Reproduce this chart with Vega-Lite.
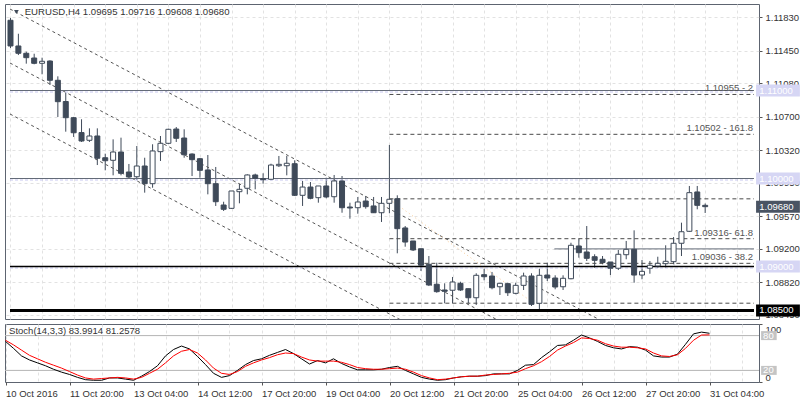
{
  "$schema": "https://vega.github.io/schema/vega-lite/v6.json",
  "background": "white",
  "padding": {"left": 3, "top": 3, "right": 0, "bottom": 0},
  "spacing": 3,
  "config": {
    "view": {"stroke": "#5d6470", "strokeWidth": 1},
    "font": "Liberation Sans",
    "axis": {"labelFont": "Liberation Sans", "labelFontSize": 9.5, "labelColor": "#333333", "tickColor": "#555555", "domain": false, "title": null, "grid": false, "labelOverlap": false}
  },
  "datasets": {
    "candles": [
      {"i":0,"o":1.11798,"h":1.11824,"l":1.11483,"c":1.11506},
      {"i":1,"o":1.11506,"h":1.11645,"l":1.11403,"c":1.11423},
      {"i":2,"o":1.11423,"h":1.11441,"l":1.11305,"c":1.11373},
      {"i":3,"o":1.11369,"h":1.11418,"l":1.11298,"c":1.11309},
      {"i":4,"o":1.11309,"h":1.11373,"l":1.11184,"c":1.11332},
      {"i":5,"o":1.11335,"h":1.11343,"l":1.11063,"c":1.11116},
      {"i":6,"o":1.11116,"h":1.11161,"l":1.10699,"c":1.10873},
      {"i":7,"o":1.10875,"h":1.10975,"l":1.10532,"c":1.10691},
      {"i":8,"o":1.10691,"h":1.10700,"l":1.10472,"c":1.10520},
      {"i":9,"o":1.10522,"h":1.10673,"l":1.10415,"c":1.10426},
      {"i":10,"o":1.10434,"h":1.10570,"l":1.10415,"c":1.10483},
      {"i":11,"o":1.10483,"h":1.10570,"l":1.10153,"c":1.10230},
      {"i":12,"o":1.10236,"h":1.10282,"l":1.10093,"c":1.10202},
      {"i":13,"o":1.10207,"h":1.10445,"l":1.10036,"c":1.10301},
      {"i":14,"o":1.10301,"h":1.10464,"l":1.10036,"c":1.10059},
      {"i":15,"o":1.10074,"h":1.10165,"l":1.10006,"c":1.10017},
      {"i":16,"o":1.10020,"h":1.10369,"l":1.09983,"c":1.10142},
      {"i":17,"o":1.10142,"h":1.10236,"l":1.09839,"c":1.09941},
      {"i":18,"o":1.09941,"h":1.10389,"l":1.09895,"c":1.10313},
      {"i":19,"o":1.10305,"h":1.10483,"l":1.10199,"c":1.10400},
      {"i":20,"o":1.10400,"h":1.10566,"l":1.10392,"c":1.10559},
      {"i":21,"o":1.10562,"h":1.10585,"l":1.10415,"c":1.10457},
      {"i":22,"o":1.10460,"h":1.10559,"l":1.10236,"c":1.10270},
      {"i":23,"o":1.10278,"h":1.10286,"l":1.10028,"c":1.10214},
      {"i":24,"o":1.10225,"h":1.10233,"l":1.10009,"c":1.10093},
      {"i":25,"o":1.10097,"h":1.10267,"l":1.09820,"c":1.09941},
      {"i":26,"o":1.09941,"h":1.10131,"l":1.09688,"c":1.09736},
      {"i":27,"o":1.09699,"h":1.09736,"l":1.09631,"c":1.09650},
      {"i":28,"o":1.09661,"h":1.09858,"l":1.09655,"c":1.09858},
      {"i":29,"o":1.09850,"h":1.09941,"l":1.09718,"c":1.09877},
      {"i":30,"o":1.09889,"h":1.10048,"l":1.09820,"c":1.10040},
      {"i":31,"o":1.10040,"h":1.10055,"l":1.09877,"c":1.10002},
      {"i":32,"o":1.09998,"h":1.10059,"l":1.09941,"c":1.09986},
      {"i":33,"o":1.09991,"h":1.10168,"l":1.09980,"c":1.10153},
      {"i":34,"o":1.10145,"h":1.10256,"l":1.10131,"c":1.10161},
      {"i":35,"o":1.10145,"h":1.10256,"l":1.10036,"c":1.10173},
      {"i":36,"o":1.10168,"h":1.10207,"l":1.09801,"c":1.09809},
      {"i":37,"o":1.09809,"h":1.09972,"l":1.09688,"c":1.09903},
      {"i":38,"o":1.09903,"h":1.09960,"l":1.09764,"c":1.09775},
      {"i":39,"o":1.09782,"h":1.09915,"l":1.09725,"c":1.09915},
      {"i":40,"o":1.09915,"h":1.10009,"l":1.09775,"c":1.09790},
      {"i":41,"o":1.09793,"h":1.10040,"l":1.09725,"c":1.09972},
      {"i":42,"o":1.09972,"h":1.10028,"l":1.09611,"c":1.09668},
      {"i":43,"o":1.09676,"h":1.09725,"l":1.09543,"c":1.09665},
      {"i":44,"o":1.09668,"h":1.09790,"l":1.09600,"c":1.09733},
      {"i":45,"o":1.09744,"h":1.09801,"l":1.09657,"c":1.09680},
      {"i":46,"o":1.09688,"h":1.09790,"l":1.09608,"c":1.09611},
      {"i":47,"o":1.09611,"h":1.09790,"l":1.09506,"c":1.09718},
      {"i":48,"o":1.09718,"h":1.10381,"l":1.09605,"c":1.09764},
      {"i":49,"o":1.09770,"h":1.09809,"l":1.09150,"c":1.09430},
      {"i":50,"o":1.09438,"h":1.09460,"l":1.09225,"c":1.09278},
      {"i":51,"o":1.09290,"h":1.09290,"l":1.09176,"c":1.09188},
      {"i":52,"o":1.09202,"h":1.09202,"l":1.08949,"c":1.09014},
      {"i":53,"o":1.09025,"h":1.09119,"l":1.08778,"c":1.08790},
      {"i":54,"o":1.08798,"h":1.09043,"l":1.08702,"c":1.08714},
      {"i":55,"o":1.08733,"h":1.08809,"l":1.08582,"c":1.08718},
      {"i":56,"o":1.08730,"h":1.08881,"l":1.08582,"c":1.08824},
      {"i":57,"o":1.08809,"h":1.08827,"l":1.08722,"c":1.08733},
      {"i":58,"o":1.08748,"h":1.08748,"l":1.08582,"c":1.08645},
      {"i":59,"o":1.08645,"h":1.08923,"l":1.08563,"c":1.08900},
      {"i":60,"o":1.08907,"h":1.08975,"l":1.08843,"c":1.08884},
      {"i":61,"o":1.08892,"h":1.08938,"l":1.08741,"c":1.08759},
      {"i":62,"o":1.08770,"h":1.08809,"l":1.08676,"c":1.08809},
      {"i":63,"o":1.08805,"h":1.08816,"l":1.08665,"c":1.08702},
      {"i":64,"o":1.08695,"h":1.08816,"l":1.08684,"c":1.08786},
      {"i":65,"o":1.08786,"h":1.08930,"l":1.08733,"c":1.08892},
      {"i":66,"o":1.08892,"h":1.08923,"l":1.08551,"c":1.08570},
      {"i":67,"o":1.08582,"h":1.08975,"l":1.08502,"c":1.08900},
      {"i":68,"o":1.08903,"h":1.09043,"l":1.08835,"c":1.08869},
      {"i":69,"o":1.08869,"h":1.08900,"l":1.08741,"c":1.08767},
      {"i":70,"o":1.08770,"h":1.08900,"l":1.08733,"c":1.08866},
      {"i":71,"o":1.08861,"h":1.09270,"l":1.08855,"c":1.09241},
      {"i":72,"o":1.09233,"h":1.09316,"l":1.09100,"c":1.09157},
      {"i":73,"o":1.09165,"h":1.09460,"l":1.09063,"c":1.09093},
      {"i":74,"o":1.09111,"h":1.09139,"l":1.08986,"c":1.09070},
      {"i":75,"o":1.09082,"h":1.09119,"l":1.09025,"c":1.09045},
      {"i":76,"o":1.09051,"h":1.09051,"l":1.08903,"c":1.08980},
      {"i":77,"o":1.08980,"h":1.09188,"l":1.08960,"c":1.09139},
      {"i":78,"o":1.09134,"h":1.09290,"l":1.09082,"c":1.09195},
      {"i":79,"o":1.09195,"h":1.09411,"l":1.08816,"c":1.08903},
      {"i":80,"o":1.08903,"h":1.09074,"l":1.08855,"c":1.08945},
      {"i":81,"o":1.08980,"h":1.09063,"l":1.08918,"c":1.09014},
      {"i":82,"o":1.09006,"h":1.09111,"l":1.08986,"c":1.09036},
      {"i":83,"o":1.09032,"h":1.09241,"l":1.08986,"c":1.09059},
      {"i":84,"o":1.09055,"h":1.09335,"l":1.09025,"c":1.09264},
      {"i":85,"o":1.09264,"h":1.09498,"l":1.09119,"c":1.09395},
      {"i":86,"o":1.09400,"h":1.09915,"l":1.09392,"c":1.09839},
      {"i":87,"o":1.09847,"h":1.09915,"l":1.09650,"c":1.09695},
      {"i":88,"o":1.09695,"h":1.09716,"l":1.09608,"c":1.09680}
    ],
    "stoch": [
      {"i":0,"k":70,"d":72},{"i":1,"k":58,"d":64},{"i":2,"k":45,"d":55},{"i":3,"k":38,"d":46},
      {"i":4,"k":33,"d":40},{"i":5,"k":28,"d":34},{"i":6,"k":22,"d":29},{"i":7,"k":17,"d":24},
      {"i":8,"k":13,"d":18},{"i":9,"k":8,"d":12},{"i":10,"k":4,"d":7},{"i":11,"k":3,"d":5},
      {"i":12,"k":3,"d":6},{"i":13,"k":7,"d":7},{"i":14,"k":7,"d":8},{"i":15,"k":5,"d":7},
      {"i":16,"k":3,"d":5},{"i":17,"k":10,"d":8},{"i":18,"k":18,"d":15},{"i":19,"k":28,"d":22},
      {"i":20,"k":45,"d":33},{"i":21,"k":56,"d":45},{"i":22,"k":62,"d":53},{"i":23,"k":57,"d":56},
      {"i":24,"k":44,"d":50},{"i":25,"k":30,"d":38},{"i":26,"k":15,"d":24},{"i":27,"k":8,"d":15},
      {"i":28,"k":11,"d":13},{"i":29,"k":20,"d":18},{"i":30,"k":30,"d":27},{"i":31,"k":37,"d":33},
      {"i":32,"k":40,"d":38},{"i":33,"k":46,"d":42},{"i":34,"k":51,"d":47},{"i":35,"k":56,"d":50},
      {"i":36,"k":49,"d":49},{"i":37,"k":40,"d":43},{"i":38,"k":31,"d":38},{"i":39,"k":37,"d":36},
      {"i":40,"k":33,"d":36},{"i":41,"k":40,"d":36},{"i":42,"k":32,"d":34},{"i":43,"k":26,"d":30},
      {"i":44,"k":21,"d":25},{"i":45,"k":21,"d":23},{"i":46,"k":21,"d":22},{"i":47,"k":22,"d":22},
      {"i":48,"k":25,"d":23},{"i":49,"k":27,"d":24},{"i":50,"k":20,"d":22},{"i":51,"k":14,"d":17},
      {"i":52,"k":8,"d":11},{"i":53,"k":5,"d":7},{"i":54,"k":3,"d":4},{"i":55,"k":4,"d":5},
      {"i":56,"k":7,"d":7},{"i":57,"k":9,"d":9},{"i":58,"k":10,"d":10},{"i":59,"k":10,"d":10},
      {"i":60,"k":11,"d":12},{"i":61,"k":14,"d":13},{"i":62,"k":14,"d":14},{"i":63,"k":14,"d":15},
      {"i":64,"k":20,"d":17},{"i":65,"k":29,"d":23},{"i":66,"k":30,"d":28},{"i":67,"k":42,"d":35},
      {"i":68,"k":52,"d":44},{"i":69,"k":63,"d":55},{"i":70,"k":64,"d":62},{"i":71,"k":72,"d":68},
      {"i":72,"k":81,"d":76},{"i":73,"k":76,"d":75},{"i":74,"k":70,"d":72},{"i":75,"k":63,"d":66},
      {"i":76,"k":59,"d":62},{"i":77,"k":57,"d":60},{"i":78,"k":61,"d":60},{"i":79,"k":60,"d":59},
      {"i":80,"k":55,"d":57},{"i":81,"k":45,"d":50},{"i":82,"k":43,"d":45},{"i":83,"k":43,"d":44},
      {"i":84,"k":48,"d":47},{"i":85,"k":65,"d":58},{"i":86,"k":83,"d":72},{"i":87,"k":86,"d":81},
      {"i":88,"k":83.99,"d":81.26}
    ],
    "channel": [
      {"g":"A","i":-0.0625,"p":1.119261},{"g":"A","i":94.1875,"p":1.074705},
      {"g":"B","i":-0.0625,"p":1.113125},{"g":"B","i":94.1875,"p":1.068568},
      {"g":"C","i":-0.0625,"p":1.10733},{"g":"C","i":94.1875,"p":1.062773}
    ],
    "orange": [{"g":"O","i":48,"p":1.09765},{"g":"O","i":65.5,"p":1.08634}],
    "fib": [
      {"p":1.10955,"lab":"1.10955 - 2"},
      {"p":1.10502,"lab":"1.10502 - 161.8"},
      {"p":1.09769,"lab":""},
      {"p":1.09316,"lab":"1.09316- 61.8"},
      {"p":1.09036,"lab":"1.09036 - 38.2"},
      {"p":1.08583,"lab":""}
    ],
    "grayLevels": [{"p":1.11},{"p":1.10}],
    "lavLevels": [{"p":1.11,"lab":"1.11000"},{"p":1.10,"lab":"1.10000"},{"p":1.09,"lab":"1.09000"}],
    "blackLevel": [{"p":1.09}],
    "thickLevel": [{"p":1.085,"lab":"1.08500"}],
    "partLevel": [{"p":1.092}],
    "price": [{"p":1.0968,"lab":"1.09680"}],
    "title": [{"lab":"EURUSD,H4  1.09695 1.09716 1.09608 1.09680"}],
    "stochLevels": [{"v":80,"lab":"80"},{"v":20,"lab":"20"}],
    "stochTitle": [{"lab":"Stoch(14,3,3) 83.9914 81.2578"}]
  },
  "vconcat": [
    {
      "width": 754,
      "height": 315,
      "layer": [
        {
          "data": {"name": "candles"},
          "mark": {"type": "rule", "color": "#3f4a59", "strokeWidth": 1},
          "encoding": {
            "x": {"field": "i", "type": "quantitative",
              "scale": {"domain": [-0.0625, 94.1875], "nice": false, "zero": false},
              "axis": {"orient": "bottom", "values": [0,4,8,12,16,20,24,28,32,36,40,44,48,52,56,60,64,68,72,76,80,84,88,92], "tickCount": 40, "grid": true, "gridDash": [3,3], "gridColor": "#e2e2e2", "labels": false, "ticks": false, "domain": false, "title": null}},
            "y": {"field": "l", "type": "quantitative",
              "scale": {"domain": [1.084034, 1.11983], "nice": false, "zero": false},
              "axis": {"orient": "right", "values": [1.0845, 1.0882, 1.092, 1.0957, 1.0995, 1.1032, 1.107, 1.1108, 1.1145, 1.1183], "tickCount": 40, "format": ".5f", "grid": true, "gridDash": [3,3], "gridColor": "#e2e2e2", "tickSize": 3, "labelPadding": 3, "labelOverlap": false, "labelBound": false, "labelFlush": false, "domain": false, "title": null}},
            "y2": {"field": "h"}
          }
        },
        {
          "data": {"name": "channel"},
          "mark": {"type": "line", "clip": true, "color": "#555555", "strokeWidth": 1, "strokeDash": [3, 3]},
          "encoding": {
            "x": {"field": "i", "type": "quantitative", "scale": {"domain": [-0.0625, 94.1875], "nice": false, "zero": false}},
            "y": {"field": "p", "type": "quantitative", "scale": {"domain": [1.084034, 1.11983], "nice": false, "zero": false}},
            "detail": {"field": "g"}
          }
        },
        {
          "data": {"name": "orange"},
          "mark": {"type": "line", "clip": true, "color": "#f2b36a", "opacity": 0.7, "strokeWidth": 1, "strokeDash": [1, 3]},
          "encoding": {
            "x": {"field": "i", "type": "quantitative", "scale": {"domain": [-0.0625, 94.1875], "nice": false, "zero": false}},
            "y": {"field": "p", "type": "quantitative", "scale": {"domain": [1.084034, 1.11983], "nice": false, "zero": false}},
            "detail": {"field": "g"}
          }
        },
        {
          "data": {"name": "lavLevels"},
          "mark": {"type": "rule", "color": "#c8c8f0", "strokeWidth": 1, "strokeDash": [3, 2], "yOffset": 1.5},
          "encoding": {
            "x": {"datum": -0.0625, "type": "quantitative", "scale": {"domain": [-0.0625, 94.1875], "nice": false, "zero": false}},
            "x2": {"datum": 94.1875},
            "y": {"field": "p", "type": "quantitative", "scale": {"domain": [1.084034, 1.11983], "nice": false, "zero": false}}
          }
        },
        {
          "data": {"name": "grayLevels"},
          "mark": {"type": "rule", "color": "#646b78", "strokeWidth": 1},
          "encoding": {
            "x": {"datum": -0.0625, "type": "quantitative", "scale": {"domain": [-0.0625, 94.1875], "nice": false, "zero": false}},
            "x2": {"datum": 94.1875},
            "y": {"field": "p", "type": "quantitative", "scale": {"domain": [1.084034, 1.11983], "nice": false, "zero": false}}
          }
        },
        {
          "data": {"name": "blackLevel"},
          "mark": {"type": "rule", "color": "#000000", "strokeWidth": 1.3},
          "encoding": {
            "x": {"datum": -0.0625, "type": "quantitative", "scale": {"domain": [-0.0625, 94.1875], "nice": false, "zero": false}},
            "x2": {"datum": 94.1875},
            "y": {"field": "p", "type": "quantitative", "scale": {"domain": [1.084034, 1.11983], "nice": false, "zero": false}}
          }
        },
        {
          "data": {"name": "thickLevel"},
          "mark": {"type": "rule", "color": "#000000", "strokeWidth": 3},
          "encoding": {
            "x": {"datum": -0.0625, "type": "quantitative", "scale": {"domain": [-0.0625, 94.1875], "nice": false, "zero": false}},
            "x2": {"datum": 94.1875},
            "y": {"field": "p", "type": "quantitative", "scale": {"domain": [1.084034, 1.11983], "nice": false, "zero": false}}
          }
        },
        {
          "data": {"name": "partLevel"},
          "mark": {"type": "rule", "color": "#646b78", "strokeWidth": 1},
          "encoding": {
            "x": {"datum": 68.9, "type": "quantitative", "scale": {"domain": [-0.0625, 94.1875], "nice": false, "zero": false}},
            "x2": {"datum": 94.1875},
            "y": {"field": "p", "type": "quantitative", "scale": {"domain": [1.084034, 1.11983], "nice": false, "zero": false}}
          }
        },
        {
          "data": {"name": "fib"},
          "mark": {"type": "rule", "color": "#4a4a4a", "strokeWidth": 1, "strokeDash": [4, 3]},
          "encoding": {
            "x": {"datum": 48, "type": "quantitative", "scale": {"domain": [-0.0625, 94.1875], "nice": false, "zero": false}},
            "x2": {"datum": 94.1875},
            "y": {"field": "p", "type": "quantitative", "scale": {"domain": [1.084034, 1.11983], "nice": false, "zero": false}}
          }
        },
        {
          "data": {"name": "fib"},
          "mark": {"type": "text", "align": "right", "baseline": "bottom", "dy": -1, "fontSize": 9.5, "color": "#555555"},
          "encoding": {
            "x": {"datum": 94.06, "type": "quantitative", "scale": {"domain": [-0.0625, 94.1875], "nice": false, "zero": false}},
            "y": {"field": "p", "type": "quantitative", "scale": {"domain": [1.084034, 1.11983], "nice": false, "zero": false}},
            "text": {"field": "lab"}
          }
        },
        {
          "data": {"name": "candles"},
          "mark": {"type": "bar", "size": 5, "stroke": "#3f4a59", "strokeWidth": 1},
          "encoding": {
            "x": {"field": "i", "type": "quantitative", "scale": {"domain": [-0.0625, 94.1875], "nice": false, "zero": false}},
            "y": {"field": "o", "type": "quantitative", "scale": {"domain": [1.084034, 1.11983], "nice": false, "zero": false}},
            "y2": {"field": "c"},
            "fill": {"condition": {"test": "datum.o > datum.c", "value": "#3f4a59"}, "value": "#ffffff"}
          }
        },
        {
          "data": {"name": "title"},
          "mark": {"type": "point", "shape": "triangle-down", "filled": true, "size": 22, "color": "#3f4a59", "opacity": 1},
          "encoding": {
            "x": {"datum": 0.75, "type": "quantitative", "scale": {"domain": [-0.0625, 94.1875], "nice": false, "zero": false}},
            "y": {"datum": 1.11892, "type": "quantitative", "scale": {"domain": [1.084034, 1.11983], "nice": false, "zero": false}}
          }
        },
        {
          "data": {"name": "title"},
          "mark": {"type": "text", "align": "left", "baseline": "middle", "fontSize": 9.6, "color": "#333333"},
          "encoding": {
            "x": {"datum": 1.8, "type": "quantitative", "scale": {"domain": [-0.0625, 94.1875], "nice": false, "zero": false}},
            "y": {"datum": 1.11892, "type": "quantitative", "scale": {"domain": [1.084034, 1.11983], "nice": false, "zero": false}},
            "text": {"field": "lab"}
          }
        },
        {
          "data": {"name": "lavLevels"},
          "mark": {"type": "rule", "color": "#d6d6f4", "strokeWidth": 12, "strokeCap": "butt"},
          "encoding": {
            "x": {"datum": 94.45, "type": "quantitative", "scale": {"domain": [-0.0625, 94.1875], "nice": false, "zero": false}},
            "x2": {"datum": 100},
            "y": {"field": "p", "type": "quantitative", "scale": {"domain": [1.084034, 1.11983], "nice": false, "zero": false}}
          }
        },
        {
          "data": {"name": "lavLevels"},
          "mark": {"type": "text", "align": "left", "baseline": "middle", "fontSize": 9.5, "color": "#ffffff"},
          "encoding": {
            "x": {"datum": 94.85, "type": "quantitative", "scale": {"domain": [-0.0625, 94.1875], "nice": false, "zero": false}},
            "y": {"field": "p", "type": "quantitative", "scale": {"domain": [1.084034, 1.11983], "nice": false, "zero": false}},
            "text": {"field": "lab"}
          }
        },
        {
          "data": {"name": "thickLevel"},
          "mark": {"type": "rule", "color": "#000000", "strokeWidth": 12, "strokeCap": "butt"},
          "encoding": {
            "x": {"datum": 94.45, "type": "quantitative", "scale": {"domain": [-0.0625, 94.1875], "nice": false, "zero": false}},
            "x2": {"datum": 100},
            "y": {"field": "p", "type": "quantitative", "scale": {"domain": [1.084034, 1.11983], "nice": false, "zero": false}}
          }
        },
        {
          "data": {"name": "thickLevel"},
          "mark": {"type": "text", "align": "left", "baseline": "middle", "fontSize": 9.5, "color": "#ffffff"},
          "encoding": {
            "x": {"datum": 94.85, "type": "quantitative", "scale": {"domain": [-0.0625, 94.1875], "nice": false, "zero": false}},
            "y": {"field": "p", "type": "quantitative", "scale": {"domain": [1.084034, 1.11983], "nice": false, "zero": false}},
            "text": {"field": "lab"}
          }
        },
        {
          "data": {"name": "price"},
          "mark": {"type": "rule", "color": "#4a5463", "strokeWidth": 12, "strokeCap": "butt"},
          "encoding": {
            "x": {"datum": 94.45, "type": "quantitative", "scale": {"domain": [-0.0625, 94.1875], "nice": false, "zero": false}},
            "x2": {"datum": 100},
            "y": {"field": "p", "type": "quantitative", "scale": {"domain": [1.084034, 1.11983], "nice": false, "zero": false}}
          }
        },
        {
          "data": {"name": "price"},
          "mark": {"type": "text", "align": "left", "baseline": "middle", "fontSize": 9.5, "color": "#ffffff"},
          "encoding": {
            "x": {"datum": 94.85, "type": "quantitative", "scale": {"domain": [-0.0625, 94.1875], "nice": false, "zero": false}},
            "y": {"field": "p", "type": "quantitative", "scale": {"domain": [1.084034, 1.11983], "nice": false, "zero": false}},
            "text": {"field": "lab"}
          }
        }
      ]
    },
    {
      "width": 754,
      "height": 58,
      "layer": [
        {
          "data": {"name": "stochLevels"},
          "mark": {"type": "rule", "color": "#b4b4b4", "strokeWidth": 1},
          "encoding": {
            "x": {"datum": -0.0625, "type": "quantitative",
              "scale": {"domain": [-0.0625, 94.1875], "nice": false, "zero": false},
              "axis": {"orient": "bottom", "values": [0,4,8,12,16,20,24,28,32,36,40,44,48,52,56,60,64,68,72,76,80,84,88,92], "tickCount": 40, "grid": true, "gridDash": [3,3], "gridColor": "#e2e2e2", "domain": false, "title": null, "tickSize": 3, "tickOpacity": {"condition": {"test": "datum.value % 8 == 0", "value": 1}, "value": 0}, "labelAlign": "left", "labelPadding": 3, "labelFontSize": 9.5, "labelOverlap": false, "labelBound": false, "labelFlush": false, "labelExpr": "datum.value % 8 == 0 ? ['10 Oct 2016','11 Oct 20:00','13 Oct 04:00','14 Oct 12:00','17 Oct 20:00','19 Oct 04:00','20 Oct 12:00','21 Oct 20:00','25 Oct 04:00','26 Oct 12:00','27 Oct 20:00','31 Oct 04:00'][datum.value / 8] : ''"}},
            "x2": {"datum": 94.1875},
            "y": {"field": "v", "type": "quantitative",
              "scale": {"domain": [0, 100], "nice": false, "zero": false},
              "axis": {"orient": "right", "values": [0, 100], "grid": false, "tickSize": 3, "labelPadding": 3, "labelFlush": true, "labelOverlap": false, "domain": false, "title": null}}
          }
        },
        {
          "data": {"name": "stoch"},
          "mark": {"type": "line", "color": "#000000", "strokeWidth": 1},
          "encoding": {
            "x": {"field": "i", "type": "quantitative", "scale": {"domain": [-0.0625, 94.1875], "nice": false, "zero": false}},
            "y": {"field": "k", "type": "quantitative", "scale": {"domain": [0, 100], "nice": false, "zero": false}}
          }
        },
        {
          "data": {"name": "stoch"},
          "mark": {"type": "line", "color": "#ff0000", "strokeWidth": 1},
          "encoding": {
            "x": {"field": "i", "type": "quantitative", "scale": {"domain": [-0.0625, 94.1875], "nice": false, "zero": false}},
            "y": {"field": "d", "type": "quantitative", "scale": {"domain": [0, 100], "nice": false, "zero": false}}
          }
        },
        {
          "data": {"name": "stochTitle"},
          "mark": {"type": "text", "align": "left", "baseline": "middle", "fontSize": 9.5, "color": "#333333"},
          "encoding": {
            "x": {"datum": 0.45, "type": "quantitative", "scale": {"domain": [-0.0625, 94.1875], "nice": false, "zero": false}},
            "y": {"datum": 88, "type": "quantitative", "scale": {"domain": [0, 100], "nice": false, "zero": false}},
            "text": {"field": "lab"}
          }
        },
        {
          "data": {"name": "stochLevels"},
          "mark": {"type": "rule", "color": "#c4c4c4", "strokeWidth": 9, "strokeCap": "butt"},
          "encoding": {
            "x": {"datum": 94.45, "type": "quantitative", "scale": {"domain": [-0.0625, 94.1875], "nice": false, "zero": false}},
            "x2": {"datum": 96.4},
            "y": {"field": "v", "type": "quantitative", "scale": {"domain": [0, 100], "nice": false, "zero": false}}
          }
        },
        {
          "data": {"name": "stochLevels"},
          "mark": {"type": "text", "align": "left", "baseline": "middle", "fontSize": 9.5, "color": "#ffffff"},
          "encoding": {
            "x": {"datum": 94.7, "type": "quantitative", "scale": {"domain": [-0.0625, 94.1875], "nice": false, "zero": false}},
            "y": {"field": "v", "type": "quantitative", "scale": {"domain": [0, 100], "nice": false, "zero": false}},
            "text": {"field": "lab"}
          }
        }
      ]
    }
  ]
}
